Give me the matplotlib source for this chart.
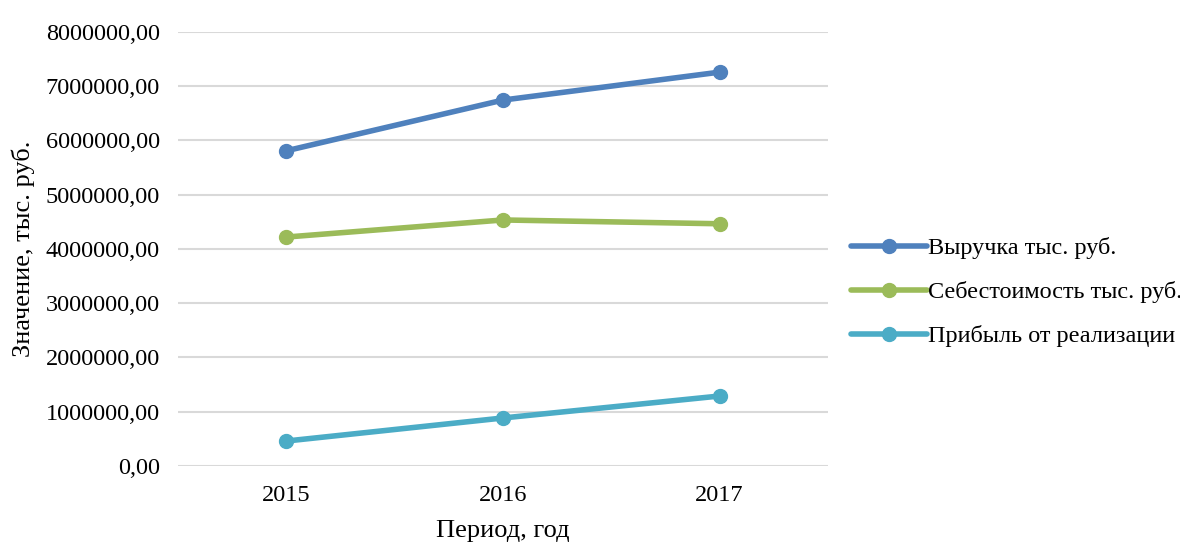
import matplotlib.pyplot as plt
from matplotlib.ticker import FuncFormatter

plt.rcParams['font.family'] = ['Liberation Serif', 'DejaVu Serif']

years = ["2015", "2016", "2017"]
revenue = [5810000, 6745000, 7260000]
cost = [4220000, 4535000, 4465000]
profit = [460000, 885000, 1290000]

series_names = ["Выручка тыс. руб.", "Себестоимость тыс. руб.", "Прибыль от реализации"]
colors = ["#4F81BD", "#9BBB59", "#4BACC6"]


def fmt(v, pos):
    return f"{v:.2f}".replace(".", ",")


fig = plt.figure(figsize=(11.8, 5.44), dpi=100)
ax = fig.add_axes([0.1508, 0.1434, 0.5509, 0.7978])

x = range(len(years))
for vals, name, c in zip([revenue, cost, profit], series_names, colors):
    ax.plot(x, vals, color=c, lw=4, marker="o", ms=10, label=name,
            solid_capstyle="round")

ax.set_xlim(-0.5, 2.5)
ax.set_ylim(0, 8000000)
ax.set_yticks(range(0, 8000001, 1000000))
ax.yaxis.set_major_formatter(FuncFormatter(fmt))
ax.set_xticks(list(x))
ax.set_xticklabels(years)
ax.tick_params(axis="y", length=0, labelsize=17.5, pad=13)
ax.tick_params(axis="x", length=0, labelsize=17.5, pad=14)
ax.grid(axis="y", color="#d9d9d9", lw=1.5)
ax.set_axisbelow(True)
for s in ax.spines.values():
    s.set_visible(False)

ax.set_xlabel("Период, год", fontsize=19, labelpad=10)
ax.set_ylabel("Значение, тыс. руб.", fontsize=19, labelpad=8)

fig.legend(loc="center left", bbox_to_anchor=(0.703, 0.463), frameon=False,
           fontsize=17.5, handlelength=3.1, handletextpad=0.05, labelspacing=0.9)

fig.savefig("out.png", dpi=100)
